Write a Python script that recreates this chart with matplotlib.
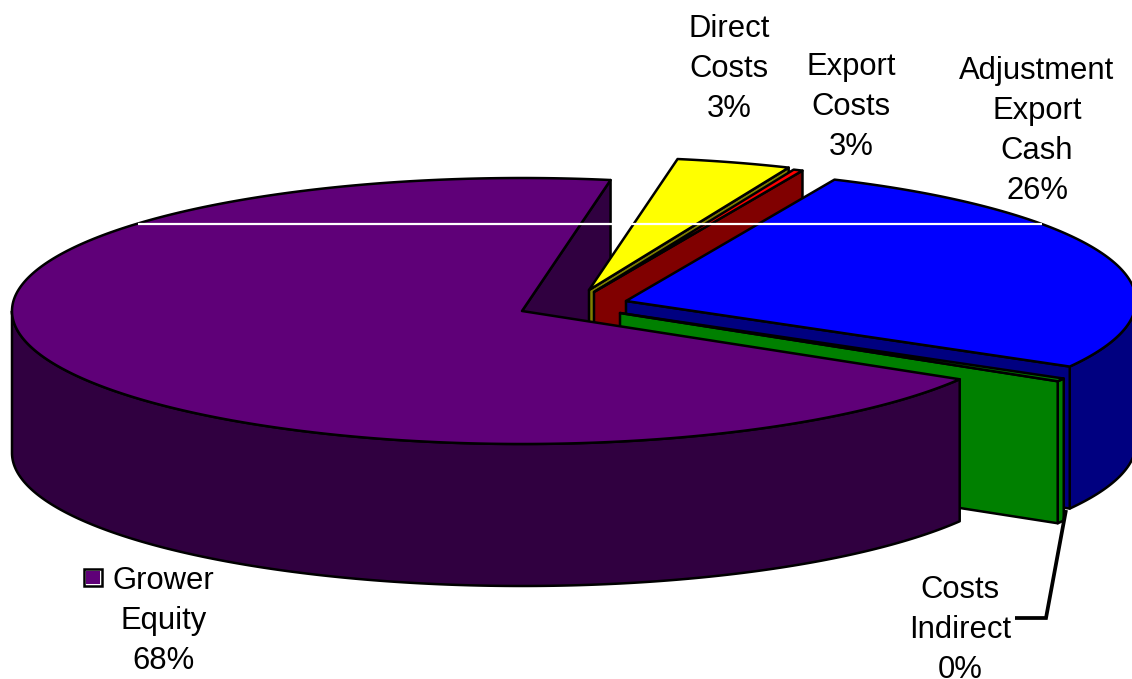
import numpy as np
import matplotlib
matplotlib.use("Agg")
import matplotlib.pyplot as plt
from matplotlib.patches import Polygon, Rectangle

plt.rcParams['font.family'] = ['Liberation Sans', 'DejaVu Sans']

# Data
categories = ["Grower Equity", "Costs Indirect", "Adjustment Export Cash", "Export Costs", "Direct Costs"]
drawn_shares = [69.2, 0.375, 26.5, 0.3, 3.625]    # slice sizes as drawn
printed_pct = ["68%", "0%", "26%", "3%", "3%"]    # percentages as printed

# Style and layout
top_colors = ["#5F0078", "#008000", "#0000FF", "#FF0000", "#FFFF00"]
side_colors = ["#300040", "#008000", "#000080", "#800000", "#808000"]
apex = [(522, 311), (620, 313), (626, 301), (594, 292), (589, 290)]
label_lines = [["Grower", "Equity"], ["Costs", "Indirect"], ["Adjustment", "Export", "Cash"],
               ["Export", "Costs"], ["Direct", "Costs"]]
label_x = [163.5, 960, 1037, 851, 729]
label_y0 = [581, 590, 71, 67, 29]
START = 80.0
A, B, DEPTH = 510.0, 133.0, 142.0
EDGE = 1.8

fig = plt.figure(figsize=(11.32, 6.79), dpi=100, facecolor="white")
ax = fig.add_axes([0, 0, 1, 1])
ax.set_xlim(0, 1132)
ax.set_ylim(679, 0)
ax.axis("off")

sweep = np.array(drawn_shares) / sum(drawn_shares) * 360.0
t0 = START + np.concatenate([[0], np.cumsum(sweep)[:-1]])
t1 = t0 + sweep


def arc(i, a, b, dz=0.0):
    t = np.radians(np.linspace(a, b, max(int(abs(b - a)) * 2, 2) + 1))
    cx, cy = apex[i]
    return np.column_stack([cx + A * np.cos(t), cy - B * np.sin(t) + dz])


z = [2]


def poly(pts, color):
    ax.add_patch(Polygon(pts, closed=True, facecolor=color, edgecolor="black",
                         linewidth=EDGE, joinstyle="round", zorder=z[0]))
    z[0] += 1


def wall(i):
    p = arc(i, t0[i], t0[i])[0]
    c = np.array(apex[i], float)
    d = np.array([0, DEPTH])
    poly([c, p, p + d, c + d], side_colors[i])


def rim(i):
    for k in (0, 1):
        lo = max(t0[i], 180 + 360 * k)
        hi = min(t1[i], 360 + 360 * k)
        if hi > lo:
            poly(np.vstack([arc(i, lo, hi), arc(i, hi, lo, DEPTH)]), side_colors[i])


def top(i):
    poly(np.vstack([[apex[i]], arc(i, t0[i], t1[i])]), top_colors[i])


wall(0)
for i in (4, 3, 2, 1):
    rim(i)
    wall(i)
    top(i)
rim(0)
top(0)

# White horizontal line across the plot
ax.plot([138, 1042], [223.5, 223.5], color="white", lw=1.6, zorder=50, solid_capstyle="butt")

# Leader line
ax.plot([1066, 1046, 1015], [510, 618, 618], color="black", lw=2.7, zorder=51,
        solid_joinstyle="miter", solid_capstyle="butt")

# Legend key
ax.add_patch(Rectangle((84, 569), 18, 17, facecolor="white", edgecolor="black", lw=1.8, zorder=52))
ax.add_patch(Rectangle((86, 571), 14, 13, facecolor=top_colors[0], edgecolor="none", zorder=53))

# Labels
for lines, pct, x, y0 in zip(label_lines, printed_pct, label_x, label_y0):
    for n, s in enumerate(lines + [pct]):
        ax.text(x, y0 + 40 * n, s, fontsize=22.3, ha="center", va="center", color="black",
                zorder=60, clip_on=False)

fig.savefig("out.png", dpi=100, facecolor="white")
